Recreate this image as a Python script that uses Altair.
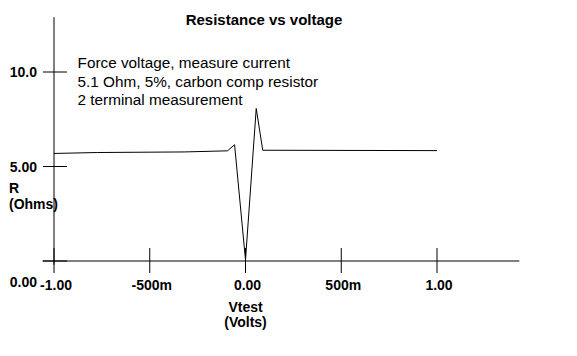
import altair as alt
import pandas as pd

# ---- data ----
vtest = [-1.0, -0.773, -0.319, -0.094, -0.057, 0.0, 0.056, 0.09, 1.0]
r_ohms = [5.69, 5.74, 5.77, 5.83, 6.15, 0.05, 8.07, 5.86, 5.84]

x_ticks = [-1.0, -0.5, 0.0, 0.5, 1.0]
x_tick_labels = ["-1.00", "-500m", "0.00", "500m", "1.00"]
y_ticks = [0.0, 5.0, 10.0]
y_tick_labels = ["0.00", "5.00", "10.0"]
x_axis_extent = [-1.06, 1.43]
y_axis_extent = [-0.2, 12.9]

title_text = "Resistance vs voltage"
notes = ["Force voltage, measure current",
         "5.1 Ohm, 5%, carbon comp resistor",
         "2 terminal measurement"]
notes_at = [-0.877, 10.21]
x_title = ["Vtest", "(Volts)"]
y_title = ["R", "(Ohms)"]

FONT = "Liberation Sans"
INK = "black"

xs = alt.Scale(domain=[-1, 1], nice=False, zero=False)
ys = alt.Scale(domain=[0, 10], nice=False, zero=False)
X = lambda f: alt.X(f, type="quantitative", scale=xs, axis=None)
Y = lambda f: alt.Y(f, type="quantitative", scale=ys, axis=None)

curve_df = pd.DataFrame({"v": vtest, "r": r_ohms, "i": list(range(len(vtest)))})
xt_df = pd.DataFrame({"v": x_ticks, "r": [0.0] * len(x_ticks), "label": x_tick_labels})
yt_df = pd.DataFrame({"v": [-1.0] * len(y_ticks), "r": y_ticks, "label": y_tick_labels})

curve = alt.Chart(curve_df).mark_line(color=INK, strokeWidth=1).encode(
    x=X("v"), y=Y("r"), order=alt.Order("i:Q"))

x_axis_line = alt.Chart(pd.DataFrame({"a": [x_axis_extent[0]], "b": [x_axis_extent[1]], "r": [0.0]})).mark_rule(
    color=INK, strokeWidth=1).encode(x=X("a"), x2=alt.X2("b"), y=Y("r"))

y_axis_line = alt.Chart(pd.DataFrame({"a": [y_axis_extent[0]], "b": [y_axis_extent[1]], "v": [-1.0]})).mark_rule(
    color=INK, strokeWidth=1).encode(y=Y("a"), y2=alt.Y2("b"), x=X("v"))

x_tick_marks = alt.Chart(xt_df).mark_rule(color=INK, strokeWidth=1, yOffset=-13, y2Offset=12).encode(
    x=X("v"), y=Y("r"), y2=alt.Y2("r"))

y_tick_marks = alt.Chart(yt_df).mark_rule(color=INK, strokeWidth=1, xOffset=-11, x2Offset=13).encode(
    y=Y("r"), x=X("v"), x2=alt.X2("v"))

x_tick_text = alt.Chart(xt_df).mark_text(
    font=FONT, fontSize=14, fontWeight="bold", color=INK, align="center",
    baseline="alphabetic", dy=29, dx=2).encode(x=X("v"), y=Y("r"), text="label:N")

y_tick_text = alt.Chart(yt_df[yt_df.r > 0].reset_index(drop=True)).mark_text(
    font=FONT, fontSize=14, fontWeight="bold", color=INK, align="right",
    baseline="middle", dx=-17, dy=1).encode(x=X("v"), y=Y("r"), text="label:N")

y_zero_text = alt.Chart(yt_df[yt_df.r == 0].reset_index(drop=True)).mark_text(
    font=FONT, fontSize=14, fontWeight="bold", color=INK, align="right",
    baseline="alphabetic", dx=-17, dy=26).encode(x=X("v"), y=Y("r"), text="label:N")

x_title_text = alt.Chart(pd.DataFrame({"t": ["\n".join(x_title)], "v": [0.0], "r": [0.0]})).mark_text(
    font=FONT, fontSize=14, fontWeight="bold", color=INK, align="center",
    baseline="alphabetic", dy=51, lineBreak="\n", lineHeight=15).encode(
    x=X("v"), y=Y("r"), text="t:N")

y_title_text = alt.Chart(pd.DataFrame({"t": ["\n".join(y_title)], "v": [-1.0], "r": [5.0]})).mark_text(
    font=FONT, fontSize=14, fontWeight="bold", color=INK, align="left",
    baseline="alphabetic", dx=-45, dy=26, lineBreak="\n", lineHeight=16).encode(
    x=X("v"), y=Y("r"), text="t:N")

notes_text = alt.Chart(pd.DataFrame({"t": ["\n".join(notes)], "v": [notes_at[0]], "r": [notes_at[1]]})).mark_text(
    font=FONT, fontSize=15.3, color=INK, align="left",
    baseline="alphabetic", lineBreak="\n", lineHeight=18.7).encode(
    x=X("v"), y=Y("r"), text="t:N")

title_mark = alt.Chart(pd.DataFrame({"t": [title_text]})).mark_text(
    font=FONT, fontSize=15, fontWeight="bold", color=INK, align="center",
    baseline="alphabetic").encode(
    x=alt.value(210), y=alt.value(-47), text="t:N")

chart = alt.layer(
    x_axis_line, y_axis_line, x_tick_marks, y_tick_marks, curve,
    x_tick_text, y_tick_text, y_zero_text, x_title_text, y_title_text,
    notes_text, title_mark,
).properties(
    width=383, height=189,
    autosize=alt.AutoSizeParams(type="none"),
    padding={"left": 46, "top": 64, "right": 132, "bottom": 80},
    background="white",
).configure_view(stroke=None)

chart.save("out.html", embed_options={"renderer": "svg", "actions": False})
